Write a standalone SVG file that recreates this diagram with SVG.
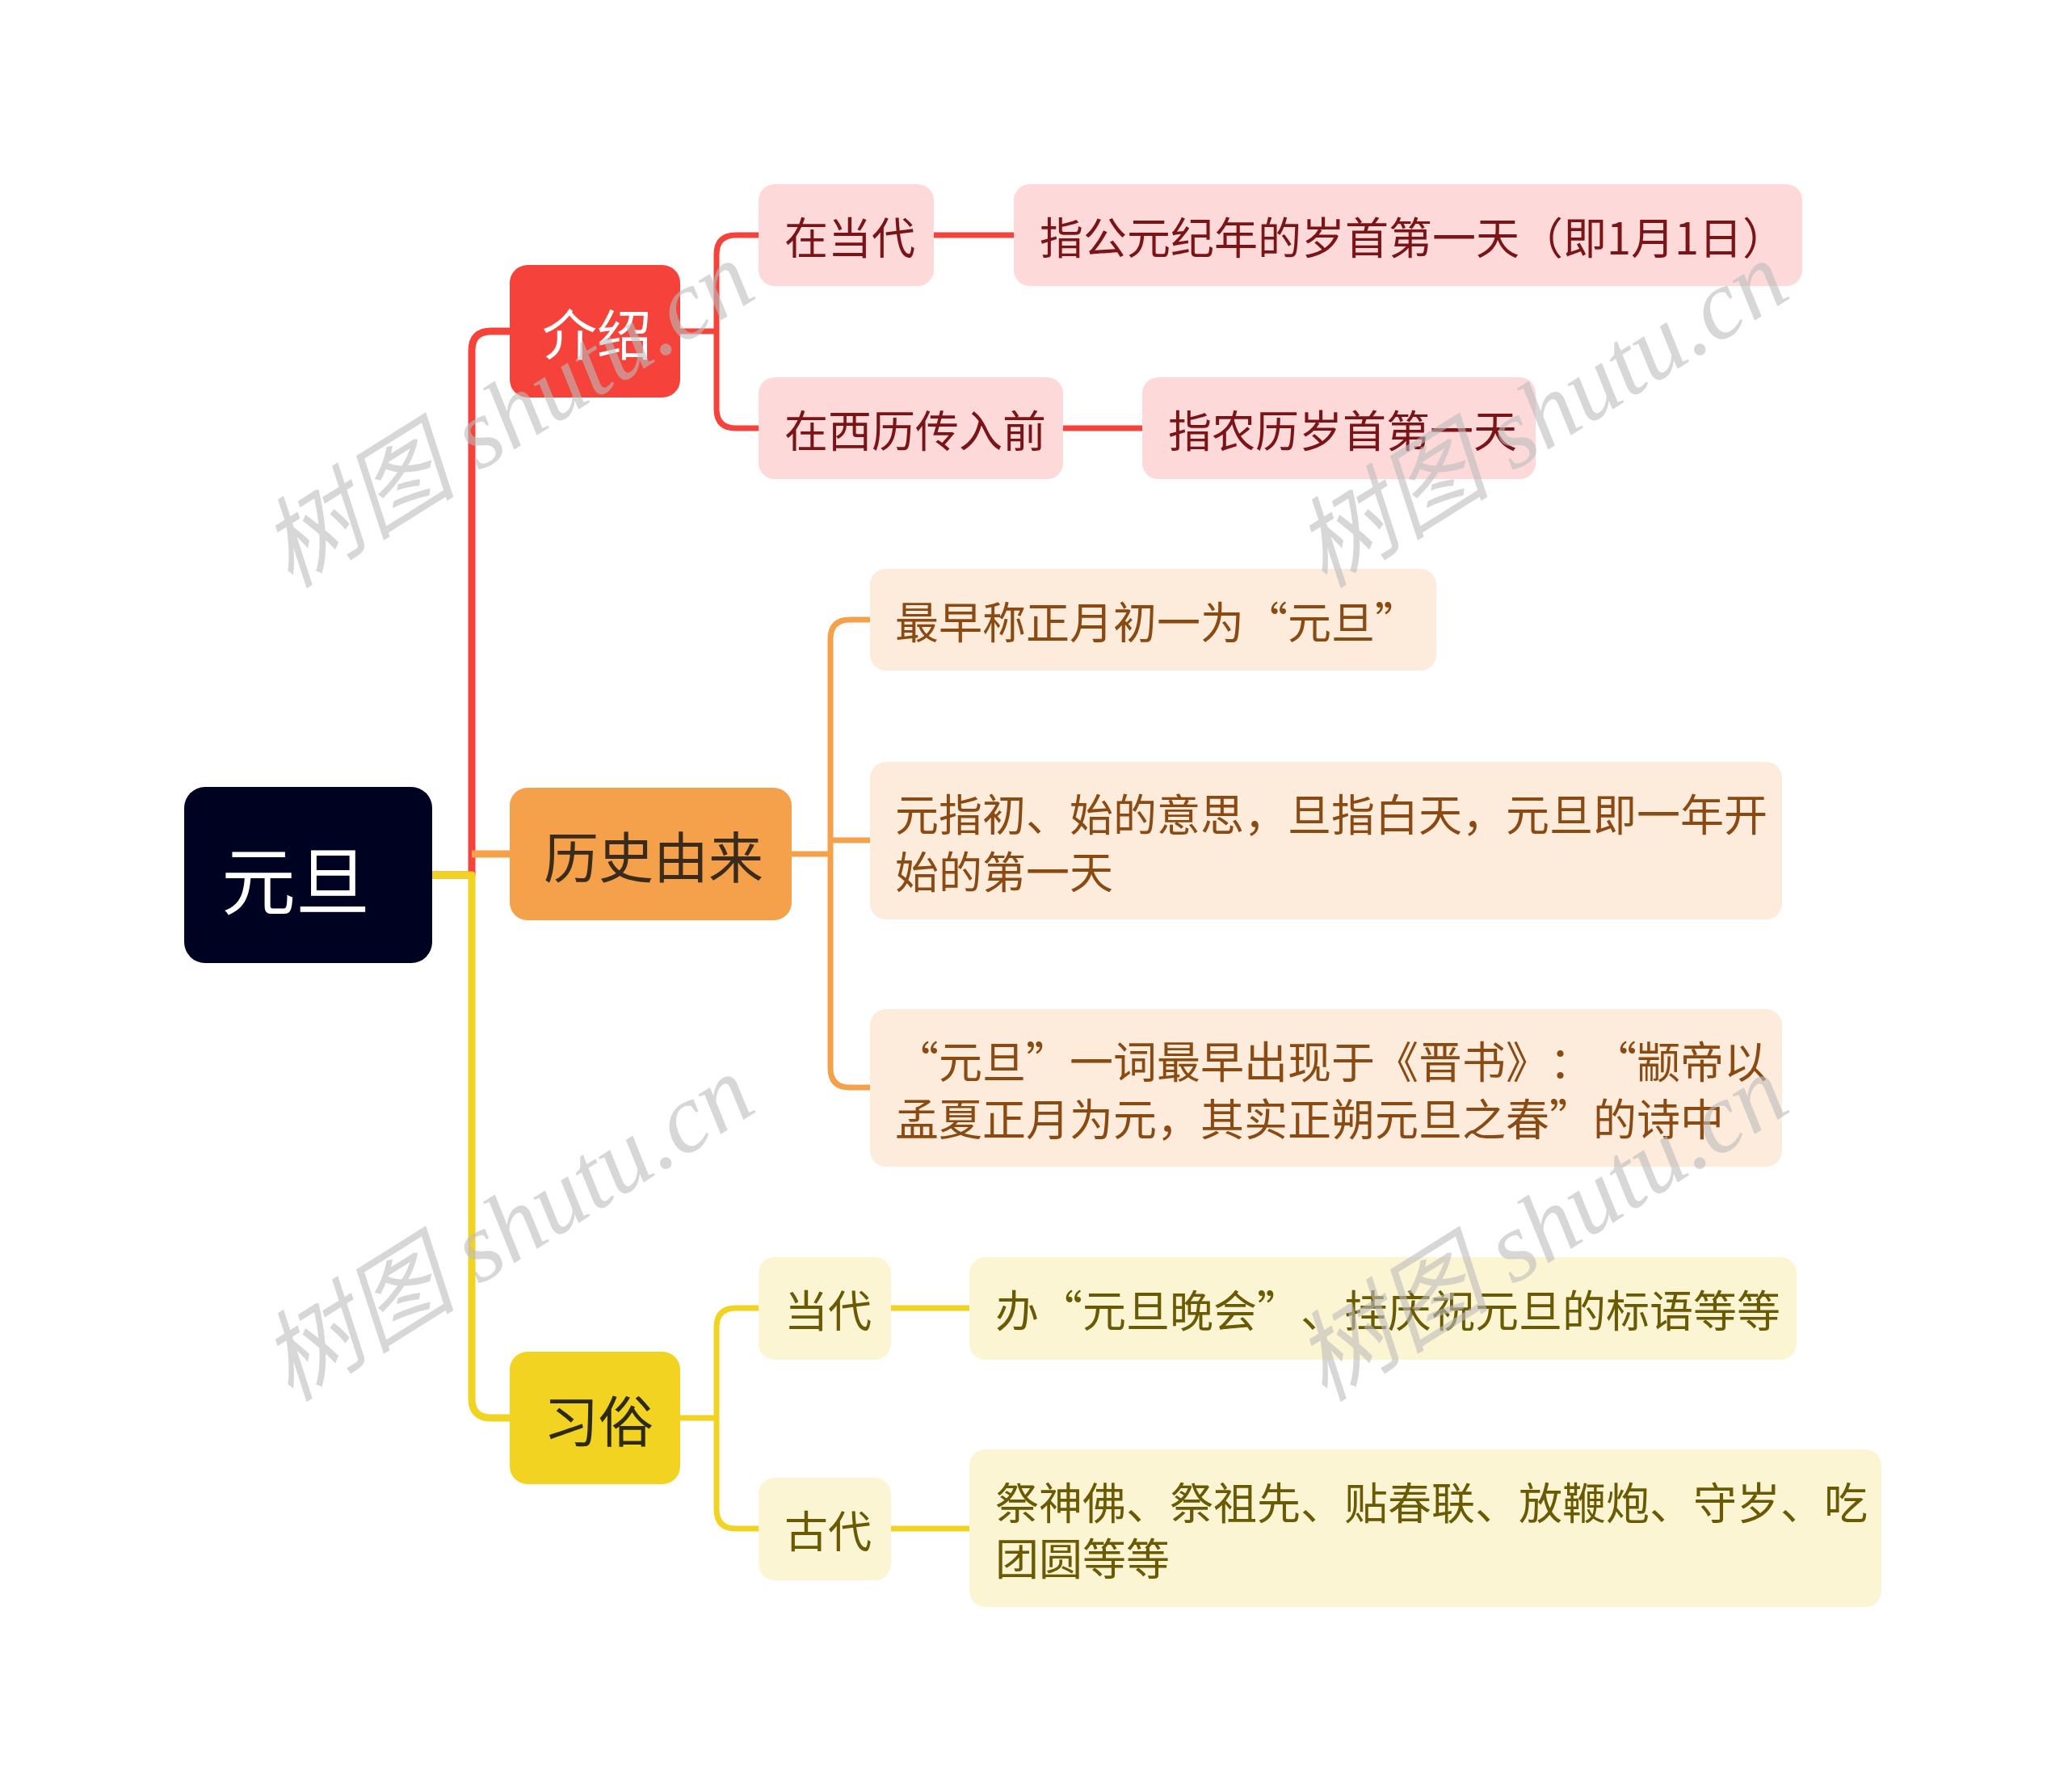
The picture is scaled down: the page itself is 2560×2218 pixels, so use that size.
<svg xmlns="http://www.w3.org/2000/svg" width="2560" height="2218" viewBox="0 0 2560 2218">
<style>
text{font-family:"Noto Sans CJK SC","Noto Sans",sans-serif;dominant-baseline:central;text-spacing-trim:space-all;font-feature-settings:"chws" 0,"halt" 0}
.c{fill:none;stroke-linecap:butt;stroke-linejoin:round}
.r{stroke:#f5423a}.o{stroke:#f5a04a}.y{stroke:#f1d322}
.m{stroke-width:9}.s{stroke-width:7}
.t0{font-size:92px;fill:#ffffff}
.t1{font-size:68px}
.t2{font-size:54px}
.lr{fill:#fdd9d9}.lo{fill:#fdebdc}.ly{fill:#fcf5d3}
.tr{fill:#7b1416}.to{fill:#8a4a12}.ty{fill:#6b5a04}
.wm{font-family:"Liberation Serif","Noto Sans CJK SC",serif;font-style:italic;font-size:122px;fill:#bdbdbd;opacity:0.6;text-anchor:middle;dominant-baseline:alphabetic}
</style>
<rect width="2560" height="2218" fill="#ffffff"/>
<g id="connectors">
<path class="c r m" d="M535 1083 H584 V434 Q584 410 608 410 H631"/>
<path class="c r s" d="M842 410 H887 M887 410 V315 Q887 291 911 291 H939 M887 410 V506 Q887 530 911 530 H939"/>
<path class="c r s" d="M1156 291 H1255 M1316 530 H1414"/>
<path class="c o m" d="M584 1057 H631"/>
<path class="c o s" d="M980 1057 H1028 M1028 1057 V791 Q1028 767 1052 767 H1077 M1028 1040 H1077 M1028 1057 V1322 Q1028 1346 1052 1346 H1077"/>
<path class="c y m" d="M535 1083 H584 V1731 Q584 1755 608 1755 H631"/>
<path class="c y s" d="M842 1755 H887 M887 1755 V1643 Q887 1619 911 1619 H939 M887 1755 V1868 Q887 1892 911 1892 H939"/>
<path class="c y s" d="M1103 1619 H1200 M1103 1892 H1200"/>
</g>
<g id="root"><rect x="228" y="974" width="307" height="218" rx="26" fill="#000222"/><text class="t0" x="274" y="1084">元旦</text></g>
<g id="intro"><rect x="631" y="328" width="211" height="164" rx="22" fill="#f5423a"/><text class="t1" x="671" y="410" fill="#ffffff">介绍</text></g>
<g id="history"><rect x="631" y="975" width="349" height="164" rx="22" fill="#f5a04a"/><text class="t1" x="673" y="1057" fill="#3b2b1a">历史由来</text></g>
<g id="custom"><rect x="631" y="1673" width="211" height="164" rx="22" fill="#f2d322"/><text class="t1" x="673" y="1755" fill="#2e2a10">习俗</text></g>
<g id="intro-now"><rect class="lr" x="939" y="228" width="217" height="126" rx="20"/><text class="t2 tr" x="971" y="291">在当代</text></g>
<g id="intro-now-d"><rect class="lr" x="1255" y="228" width="976" height="126" rx="20"/><text class="t2 tr" x="1287" y="291">指公元纪年的岁首第一天（即1月1日）</text></g>
<g id="intro-before"><rect class="lr" x="939" y="467" width="377" height="126" rx="20"/><text class="t2 tr" x="971" y="530">在西历传入前</text></g>
<g id="intro-before-d"><rect class="lr" x="1414" y="467" width="487" height="126" rx="20"/><text class="t2 tr" x="1446" y="530">指农历岁首第一天</text></g>
<g id="hist-1"><rect class="lo" x="1077" y="704" width="701" height="126" rx="20"/><text class="t2 to" x="1108" y="767">最早称正月初一为“元旦”</text></g>
<g id="hist-2"><rect class="lo" x="1077" y="943" width="1129" height="195" rx="20"/><text class="t2 to" x="1108" y="1005">元指初、始的意思，旦指白天，元旦即一年开</text><text class="t2 to" x="1108" y="1076">始的第一天</text></g>
<g id="hist-3"><rect class="lo" x="1077" y="1249" width="1129" height="195" rx="20"/><text class="t2 to" x="1108" y="1311">“元旦”一词最早出现于《晋书》：“颛帝以</text><text class="t2 to" x="1108" y="1382">孟夏正月为元，其实正朔元旦之春”的诗中</text></g>
<g id="cus-now"><rect class="ly" x="939" y="1556" width="164" height="127" rx="20"/><text class="t2 ty" x="971" y="1619">当代</text></g>
<g id="cus-now-d"><rect class="ly" x="1200" y="1556" width="1024" height="127" rx="20"/><text class="t2 ty" x="1232" y="1619">办“元旦晚会”、挂庆祝元旦的标语等等</text></g>
<g id="cus-old"><rect class="ly" x="939" y="1829" width="164" height="127" rx="20"/><text class="t2 ty" x="971" y="1892">古代</text></g>
<g id="cus-old-d"><rect class="ly" x="1200" y="1794" width="1129" height="195" rx="20"/><text class="t2 ty" x="1232" y="1857">祭神佛、祭祖先、贴春联、放鞭炮、守岁、吃</text><text class="t2 ty" x="1232" y="1926">团圆等等</text></g>
<g id="watermarks">
<text class="wm" transform="rotate(-32 650 548)" x="650" y="548">树图 shutu.cn</text>
<text class="wm" transform="rotate(-32 1930 548)" x="1930" y="548">树图 shutu.cn</text>
<text class="wm" transform="rotate(-32 650 1555)" x="650" y="1555">树图 shutu.cn</text>
<text class="wm" transform="rotate(-32 1930 1555)" x="1930" y="1555">树图 shutu.cn</text>
</g>
</svg>
